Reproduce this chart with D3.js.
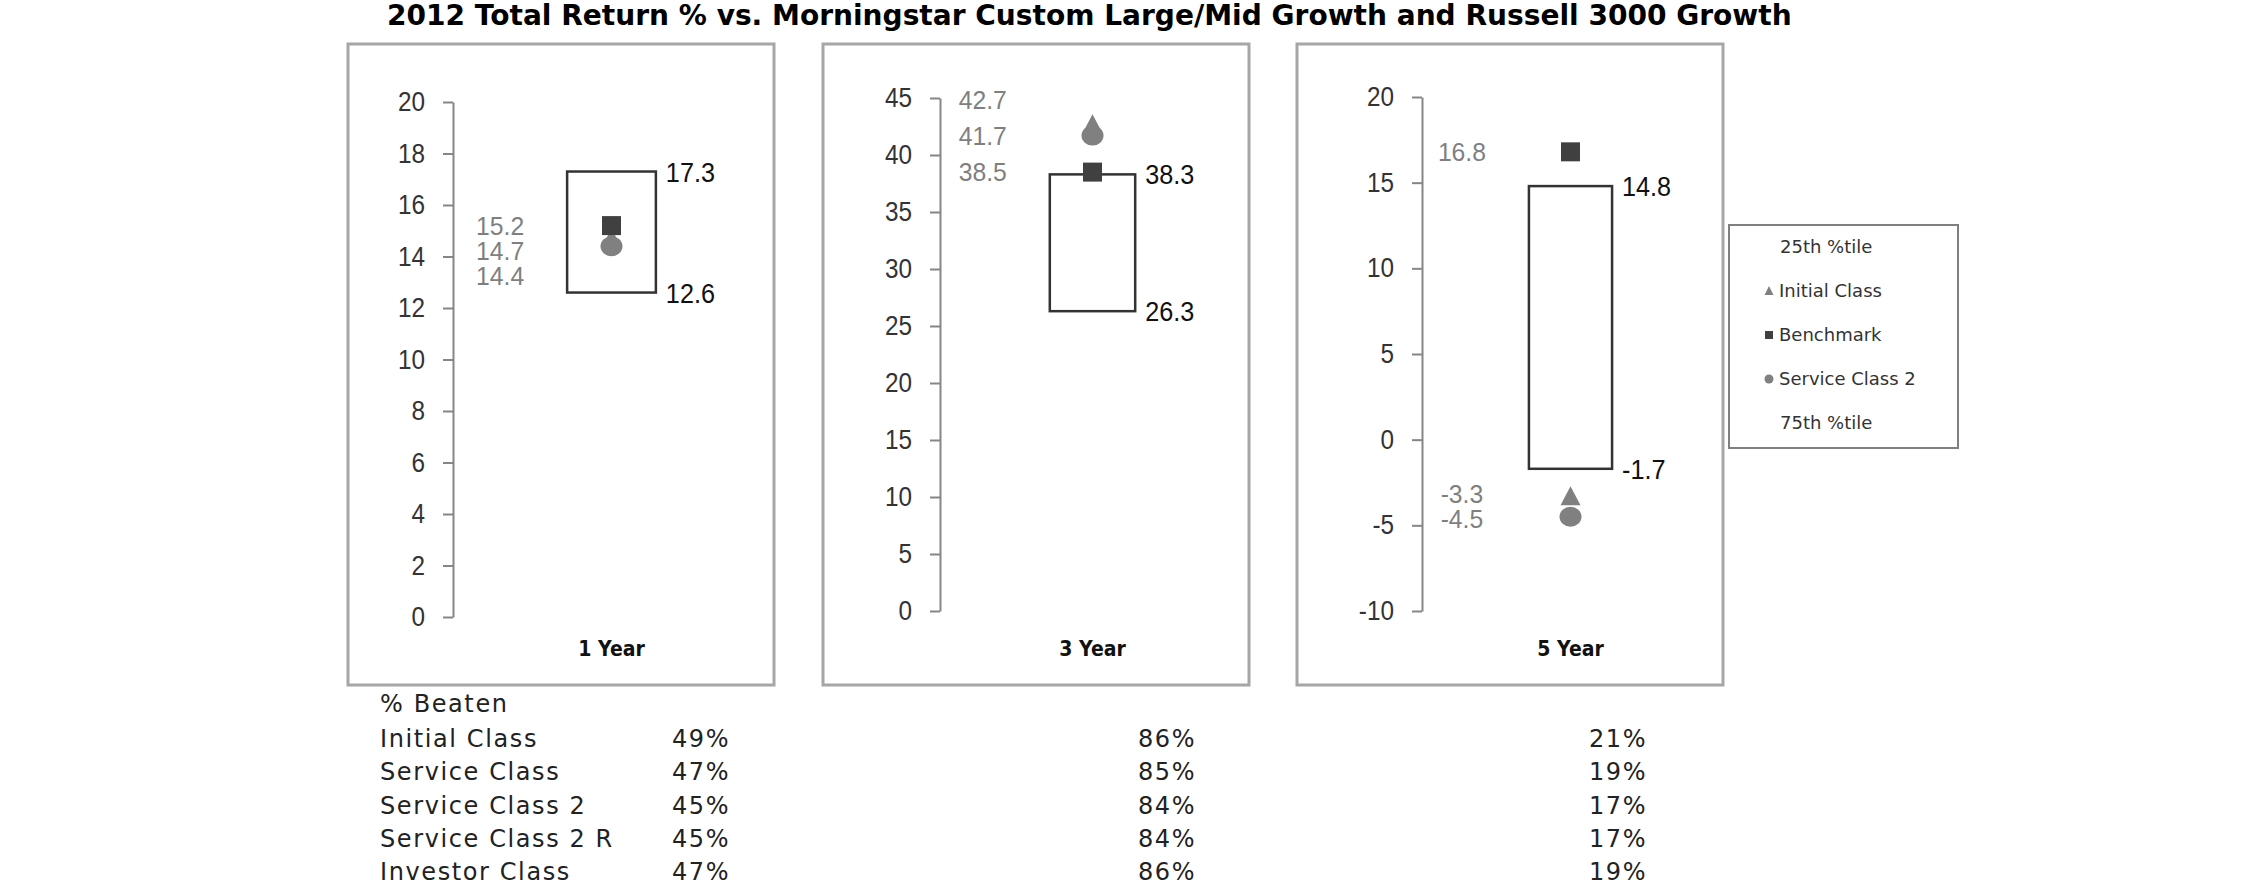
<!DOCTYPE html>
<html><head><meta charset="utf-8">
<script src="https://cdn.jsdelivr.net/npm/d3@7"></script>
<style>body{margin:0;background:#fff;} svg{display:block;}</style>
</head><body>
<svg id="c" width="2250" height="895"></svg>
<script>
// ---------------- data ----------------
const title = "2012 Total Return % vs. Morningstar Custom Large/Mid Growth and Russell 3000 Growth";
const periods = ["1 Year", "3 Year", "5 Year"];
const pct25 = [17.3, 38.3, 14.8];
const pct75 = [12.6, 26.3, -1.7];
const initialClass = [14.7, 42.7, -3.3];
const benchmark = [15.2, 38.5, 16.8];
const serviceClass2 = [14.4, 41.7, -4.5];
const yMin = [0, 0, -10];
const yMax = [20, 45, 20];
const yStep = [2, 5, 5];
const legendItems = ["25th %tile", "Initial Class", "Benchmark", "Service Class 2", "75th %tile"];
const legendShapes = [null, "triangle", "square", "circle", null];
const beatenHeader = "% Beaten";
const beatenClasses = ["Initial Class", "Service Class", "Service Class 2", "Service Class 2 R", "Investor Class"];
const beaten1 = ["49%", "47%", "45%", "45%", "47%"];
const beaten3 = ["86%", "85%", "84%", "84%", "86%"];
const beaten5 = ["21%", "19%", "17%", "17%", "19%"];

// ---------------- layout ----------------
const panelLayout = [
  {left: 348, axisOff: 105, top: 102, bottom: 617, anchor: "top", gap: 25},
  {left: 823, axisOff: 117, top: 98, bottom: 611, anchor: "bottom", gap: 36},
  {left: 1297, axisOff: 125, top: 97, bottom: 611, anchor: "center", gap: 25}
];
const panelW = 426, panelTop = 44, panelH = 641;
const C = {tri: "#808080", sq: "#404040", circ: "#808080", axis: "#868686", frame: "#a6a6a6"};
const numFont = "'Liberation Sans', Arial, sans-serif";
const vFont = "'DejaVu Sans', Verdana, sans-serif";

function squash(sel, f) {
  sel.each(function () {
    const L = this.getComputedTextLength();
    this.setAttribute("textLength", L * f);
    this.setAttribute("lengthAdjust", "spacingAndGlyphs");
  });
}

const svg = d3.select("#c");
svg.append("rect").attr("width", 2250).attr("height", 895).attr("fill", "#fff");

// title
const t = svg.append("text").attr("x", 387).attr("y", 25)
  .attr("font-family", vFont).attr("font-weight", "bold").attr("font-size", 26)
  .attr("fill", "#000").text(title);
const tl = t.node().getComputedTextLength();
t.attr("font-size", 26 * 1405 / tl);

function placeLabels(ys, anchor, gap) {
  const n = ys.length, pos = ys.slice();
  if (anchor === "top") {
    for (let i = 1; i < n; i++) pos[i] = Math.max(pos[i], pos[i - 1] + gap);
  } else if (anchor === "bottom") {
    for (let i = n - 2; i >= 0; i--) pos[i] = Math.min(pos[i], pos[i + 1] - gap);
  } else {
    let cl = ys.map(y => ({sum: y, n: 1}));
    const start = c => c.sum / c.n - (c.n - 1) * gap / 2;
    let merged = true;
    while (merged) {
      merged = false;
      for (let i = 0; i < cl.length - 1; i++) {
        if (start(cl[i]) + cl[i].n * gap > start(cl[i + 1])) {
          cl[i] = {sum: cl[i].sum + cl[i + 1].sum, n: cl[i].n + cl[i + 1].n};
          cl.splice(i + 1, 1); merged = true; break;
        }
      }
    }
    let k = 0;
    cl.forEach(c => { const s = start(c); for (let j = 0; j < c.n; j++) pos[k++] = s + j * gap; });
  }
  return pos;
}

periods.forEach((p, i) => {
  const L = panelLayout[i];
  const g = svg.append("g");
  g.append("rect").attr("x", L.left).attr("y", panelTop).attr("width", panelW).attr("height", panelH)
    .attr("fill", "#fff").attr("stroke", C.frame).attr("stroke-width", 3);

  const axisX = L.left + L.axisOff;
  const plotRight = L.left + panelW - 4;
  const y = d3.scaleLinear().domain([yMin[i], yMax[i]]).range([L.bottom, L.top]);
  const x = d3.scaleBand().domain([p]).range([axisX, plotRight]).paddingInner(0).paddingOuter(1.286);

  const ticks = d3.range(yMin[i], yMax[i] + 1e-9, yStep[i]);
  const ax = g.append("g").attr("transform", `translate(${axisX},0)`)
    .call(d3.axisLeft(y).tickValues(ticks).tickSize(10).tickSizeOuter(0).tickPadding(18).tickFormat(d => String(d)));
  ax.select(".domain").attr("stroke", C.axis).attr("stroke-width", 2);
  ax.selectAll(".tick line").attr("stroke", C.axis).attr("stroke-width", 2);
  const tt = ax.selectAll(".tick text").attr("font-family", numFont).attr("font-size", 27).attr("fill", "#333");
  squash(tt, 0.9);

  const bx = x(p), bw = x.bandwidth(), cx = bx + bw / 2;
  g.append("rect").attr("x", bx).attr("y", y(pct25[i])).attr("width", bw)
    .attr("height", y(pct75[i]) - y(pct25[i]))
    .attr("fill", "#fff").attr("stroke", "#333").attr("stroke-width", 2.5);

  // box labels
  [pct25[i], pct75[i]].forEach(v => {
    const bt = g.append("text").attr("x", bx + bw + 10).attr("y", y(v)).attr("dy", "0.36em")
      .attr("font-family", numFont).attr("font-size", 28).attr("fill", "#111").text(v.toFixed(1));
    squash(bt, 0.9);
  });

  // markers
  const ty = y(initialClass[i]);
  g.append("path").attr("d", `M${cx},${ty - 10}L${cx + 10},${ty + 9}L${cx - 10},${ty + 9}Z`).attr("fill", C.tri);
  g.append("rect").attr("x", cx - 9.5).attr("y", y(benchmark[i]) - 9.5).attr("width", 19).attr("height", 19).attr("fill", C.sq);
  g.append("ellipse").attr("cx", cx).attr("cy", y(serviceClass2[i])).attr("rx", 11).attr("ry", 10).attr("fill", C.circ);

  // value labels (gray, left)
  const vals = [initialClass[i], benchmark[i], serviceClass2[i]].sort((a, b) => b - a);
  const pos = placeLabels(vals.map(v => y(v)), L.anchor, L.gap);
  vals.forEach((v, j) => {
    const lt = g.append("text").attr("x", bx - 67).attr("y", pos[j]).attr("dy", "0.36em").attr("text-anchor", "middle")
      .attr("font-family", numFont).attr("font-size", 26).attr("fill", "#7f7f7f").text(v.toFixed(1));
    squash(lt, 0.95);
  });

  // category label
  const ct = g.append("text").attr("x", cx).attr("y", 656).attr("text-anchor", "middle")
    .attr("font-family", vFont).attr("font-weight", "bold").attr("font-size", 22).attr("fill", "#111").text(p);
  squash(ct, 0.86);
});

// legend
const lg = svg.append("g");
lg.append("rect").attr("x", 1729).attr("y", 225).attr("width", 229).attr("height", 223)
  .attr("fill", "#fff").attr("stroke", "#808080").attr("stroke-width", 2);
legendItems.forEach((name, i) => {
  const yy = 247 + i * 44;
  const s = legendShapes[i];
  if (s === "triangle") lg.append("path").attr("d", `M1769,${yy - 5}L1773.5,${yy + 4}L1764.5,${yy + 4}Z`).attr("fill", C.tri);
  if (s === "square") lg.append("rect").attr("x", 1765).attr("y", yy - 4).attr("width", 8).attr("height", 8).attr("fill", C.sq);
  if (s === "circle") lg.append("circle").attr("cx", 1769).attr("cy", yy).attr("r", 4.5).attr("fill", C.circ);
  lg.append("text").attr("x", s ? 1779 : 1780).attr("y", yy).attr("dy", "0.35em")
    .attr("font-family", vFont).attr("font-size", 18).attr("fill", "#333").text(name);
});

// % beaten table
const tb = svg.append("g").attr("font-family", vFont).attr("font-size", 24).attr("fill", "#222")
  .attr("letter-spacing", "1.6px");
tb.append("text").attr("x", 380).attr("y", 712).text(beatenHeader);
beatenClasses.forEach((c, i) => {
  const yy = 747 + i * 33.3;
  tb.append("text").attr("x", 380).attr("y", yy).text(c);
  tb.append("text").attr("x", 672).attr("y", yy).text(beaten1[i]);
  tb.append("text").attr("x", 1138).attr("y", yy).text(beaten3[i]);
  tb.append("text").attr("x", 1589).attr("y", yy).text(beaten5[i]);
});
</script>
</body></html>
